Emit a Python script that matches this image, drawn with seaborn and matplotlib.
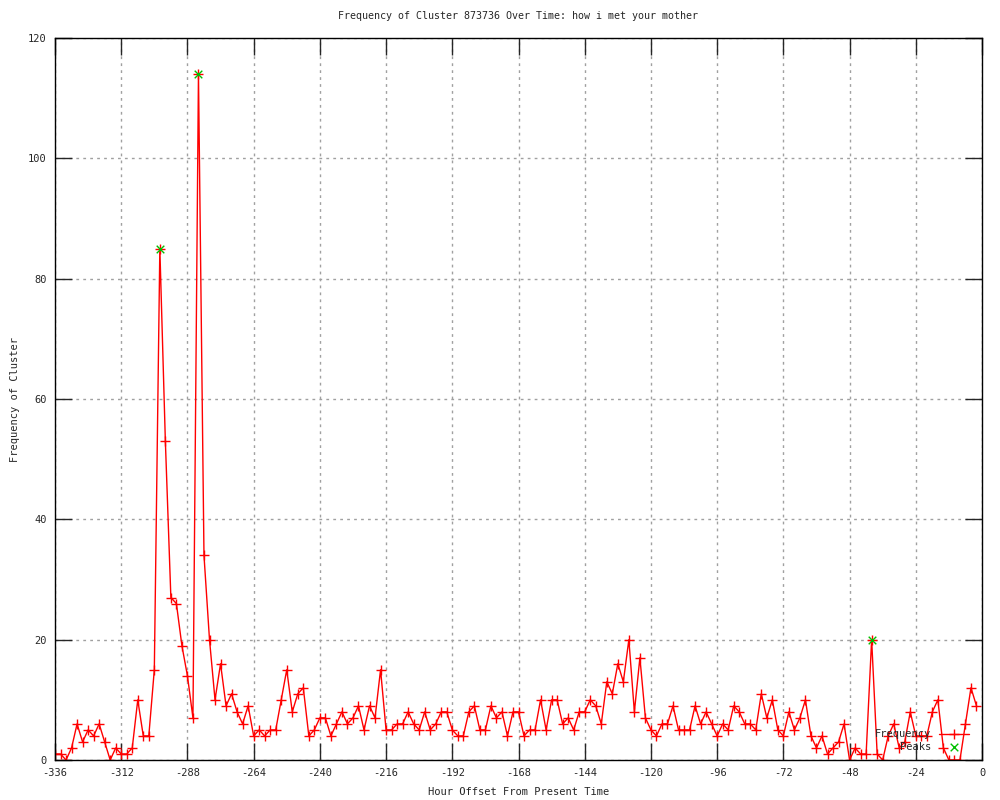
import numpy as np
import pandas as pd
import matplotlib
matplotlib.use('Agg')
import matplotlib.pyplot as plt
import seaborn as sns

# hourly buckets (every 2 hours) and cluster frequency
hours = list(range(-336, 0, 2))
frequency = [
    1, 1, 0, 2, 6, 3, 5, 4, 6, 3, 0, 2, 1, 1, 2, 10, 4, 4, 15, 85,
    53, 27, 26, 19, 14, 7, 114, 34, 20, 10, 16, 9, 11, 8, 6, 9, 4, 5, 4, 5,
    5, 10, 15, 8, 11, 12, 4, 5, 7, 7, 4, 6, 8, 6, 7, 9, 5, 9, 7, 15,
    5, 5, 6, 6, 8, 6, 5, 8, 5, 6, 8, 8, 5, 4, 4, 8, 9, 5, 5, 9,
    7, 8, 4, 8, 8, 4, 5, 5, 10, 5, 10, 10, 6, 7, 5, 8, 8, 10, 9, 6,
    13, 11, 16, 13, 20, 8, 17, 7, 5, 4, 6, 6, 9, 5, 5, 5, 9, 6, 8, 6,
    4, 6, 5, 9, 8, 6, 6, 5, 11, 7, 10, 5, 4, 8, 5, 7, 10, 4, 2, 4,
    1, 2, 3, 6, 0, 2, 1, 1, 20, 1, 0, 4, 6, 2, 3, 8, 4, 4, 4, 8,
    10, 2, 0, 0, 0, 6, 12, 9,
]
peak_hours = [-298, -284, -40]
peak_values = [85, 114, 20]

df = pd.DataFrame({'hour': hours, 'freq': frequency})
peaks = pd.DataFrame({'hour': peak_hours, 'freq': peak_values})

sns.set_style('white')
plt.rcParams['font.family'] = ['DejaVu Sans Mono', 'DejaVu Sans']
plt.rcParams['axes.unicode_minus'] = False

fig = plt.figure(figsize=(10, 8), dpi=100)
ax = fig.add_axes([0.055, 0.05, 0.927, 0.9025])

sns.lineplot(data=df, x='hour', y='freq', ax=ax, color='#ff0000', linewidth=1,
             marker='+', markersize=6.5, markeredgewidth=1, markeredgecolor='#ff0000',
             label='Frequency')
sns.scatterplot(data=peaks, x='hour', y='freq', ax=ax, color='#00c000', marker='x',
                s=30, linewidth=1, label='Peaks', zorder=5)

ax.set_xlim(-336, 0)
ax.set_ylim(0, 120)
ax.set_xticks(np.arange(-336, 1, 24))
ax.set_yticks(np.arange(0, 121, 20))
ax.grid(True, color='#a0a0a0', linestyle=(0, (2, 3)), linewidth=1)
ax.set_axisbelow(True)
ax.tick_params(direction='in', length=12, width=1, labelsize=7.5, top=True, right=True,
               bottom=True, left=True, pad=6)
for s in ax.spines.values():
    s.set_color('black')
    s.set_linewidth(1)

ax.set_title('Frequency of Cluster 873736 Over Time: how i met your mother', fontsize=7.2, pad=14)
ax.set_xlabel('Hour Offset From Present Time', fontsize=7.5, labelpad=6)
ax.set_ylabel('Frequency of Cluster', fontsize=7.5, labelpad=6)

ax.legend(loc='lower right', bbox_to_anchor=(0.992, 0.004), frameon=False, markerfirst=False,
          fontsize=7.5, handlelength=2.9, labelspacing=0.25, borderpad=0, handletextpad=0.8)

fig.savefig('out.png', dpi=100)
